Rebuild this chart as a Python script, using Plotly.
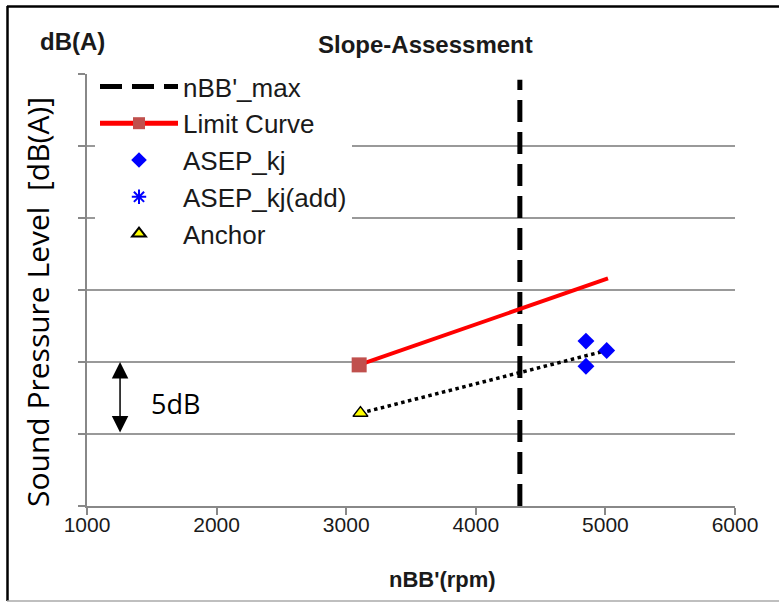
import plotly.graph_objects as go

# ---- data ----
x_nbb_max = [4340, 4340]
y_nbb_max = [60, 89.6]
x_limit = [3100, 5020]
y_limit = [69.8, 75.8]
x_asep = [4850, 4850, 5010]
y_asep = [71.45, 69.7, 70.8]
x_asep_add = [None]
y_asep_add = [None]
x_anchor = [3110]
y_anchor = [66.45]
x_trend = [3110, 5010]
y_trend = [66.45, 70.8]
x_ticks = [1000, 2000, 3000, 4000, 5000, 6000]
y_grid = [60, 65, 70, 75, 80, 85, 90]

W, H = 779, 603
L, R, T, B = 87, 44, 74, 97
PW, PH = W - L - R, H - T - B


def px(x):
    return (x - L) / PW


def py(y):
    return (H - B - y) / PH


fig = go.Figure()

fig.add_trace(go.Scatter(
    x=x_nbb_max, y=y_nbb_max, mode="lines", name="nBB'_max",
    line=dict(color="black", width=5, dash="22px,10px"),
    legendgroup="a"))
fig.add_trace(go.Scatter(
    x=x_limit, y=y_limit, mode="lines+markers", name="Limit Curve",
    line=dict(color="#FF0000", width=4),
    marker=dict(symbol="square", color="#C0504D", size=[15, 0], opacity=1,
                line=dict(width=0)),
    legendgroup="b"))
fig.add_trace(go.Scatter(
    x=x_trend, y=y_trend, mode="lines", showlegend=False,
    line=dict(color="black", width=3.5, dash="dot")))
fig.add_trace(go.Scatter(
    x=x_asep, y=y_asep, mode="markers", name="ASEP_kj",
    marker=dict(symbol="diamond", color="#0000FF", size=13),
    legendgroup="c"))
fig.add_trace(go.Scatter(
    x=x_asep_add, y=y_asep_add, mode="markers", name="ASEP_kj(add)",
    marker=dict(symbol="asterisk-open", color="#0000FF", size=16,
                line=dict(color="#0000FF", width=1.3)),
    legendgroup="d"))
fig.add_trace(go.Scatter(
    x=x_anchor, y=y_anchor, mode="markers", name="Anchor",
    marker=dict(symbol="triangle-up", color="#FFFF00", size=13,
                line=dict(color="black", width=1.5)),
    legendgroup="e"))

# 5dB arrow
fig.add_annotation(x=1255, y=y_grid[2], ax=1255, ay=y_grid[1],
                   xref="x", yref="y", axref="x", ayref="y",
                   text="", showarrow=True, arrowhead=2, arrowside="end+start",
                   arrowsize=2.2, arrowwidth=1.5, arrowcolor="black", standoff=0,
                   startstandoff=0)
fig.add_annotation(x=px(175), y=py(403), xref="paper", yref="paper",
                   xanchor="center", yanchor="middle",
                   text="5dB", showarrow=False,
                   font=dict(family="Open Sans, Noto Sans", size=27, color="black"))

# titles
bold_font = "Liberation Sans Narrow, Liberation Sans"
fig.add_annotation(x=px(425), y=py(44), xref="paper", yref="paper",
                   xanchor="center", yanchor="middle",
                   text="<b>Slope-Assessment</b>", showarrow=False,
                   font=dict(family=bold_font, size=24, color="#1a1a1a"))
fig.add_annotation(x=px(72), y=py(41), xref="paper", yref="paper",
                   xanchor="center", yanchor="middle",
                   text="<b>dB(A)</b>", showarrow=False,
                   font=dict(family=bold_font, size=24, color="#1a1a1a"))
fig.add_annotation(x=px(442), y=py(579), xref="paper", yref="paper",
                   xanchor="center", yanchor="middle",
                   text="<b>nBB'(rpm)</b>", showarrow=False,
                   font=dict(family=bold_font, size=22, color="#1a1a1a"))
fig.add_annotation(x=px(37), y=py(302), xref="paper", yref="paper",
                   xanchor="center", yanchor="middle",
                   text="Sound Pressure Level  [dB(A)]", showarrow=False, textangle=-90,
                   font=dict(family="Open Sans, Noto Sans", size=30, color="black"))

# outer frame (top, left black; bottom gray)
fig.add_shape(type="line", xref="paper", yref="paper",
              x0=px(7), x1=px(779), y0=py(6.5), y1=py(6.5),
              line=dict(color="black", width=2.5))
fig.add_shape(type="line", xref="paper", yref="paper",
              x0=px(7.5), x1=px(7.5), y0=py(6), y1=py(601),
              line=dict(color="black", width=2.5))
fig.add_shape(type="line", xref="paper", yref="paper",
              x0=px(7), x1=px(779), y0=py(601), y1=py(601),
              line=dict(color="#aaaaaa", width=1.5))

fig.update_layout(
    width=W, height=H,
    margin=dict(l=L, r=R, t=T, b=B),
    paper_bgcolor="white", plot_bgcolor="white",
    showlegend=True,
    legend=dict(x=px(95), y=py(63), xanchor="left", yanchor="top",
                bgcolor="white", traceorder="grouped", tracegroupgap=0,
                itemwidth=78, itemsizing="constant",
                font=dict(family="Liberation Sans, Arial", size=26, color="#1a1a1a")),
    xaxis=dict(range=[1000, 6000], tickvals=x_ticks, showgrid=False,
               showline=True, linecolor="#888888", linewidth=1.5,
               ticks="outside", ticklen=7, tickcolor="#888888", tickwidth=1.5,
               ticklabelstandoff=-8,
               zeroline=False,
               tickfont=dict(family="Liberation Sans Narrow, Liberation Sans", size=21, color="#1a1a1a")),
    yaxis=dict(range=[60, 90], tickvals=y_grid, showticklabels=False,
               showgrid=True, gridcolor="#999999", gridwidth=1.5,
               showline=True, linecolor="#888888", linewidth=1.5,
               ticks="outside", ticklen=7, tickcolor="#888888", tickwidth=1.5,
               zeroline=False),
)

fig.write_html("out.html", post_script="document.body.style.margin='0';",
               config={"displayModeBar": False})
